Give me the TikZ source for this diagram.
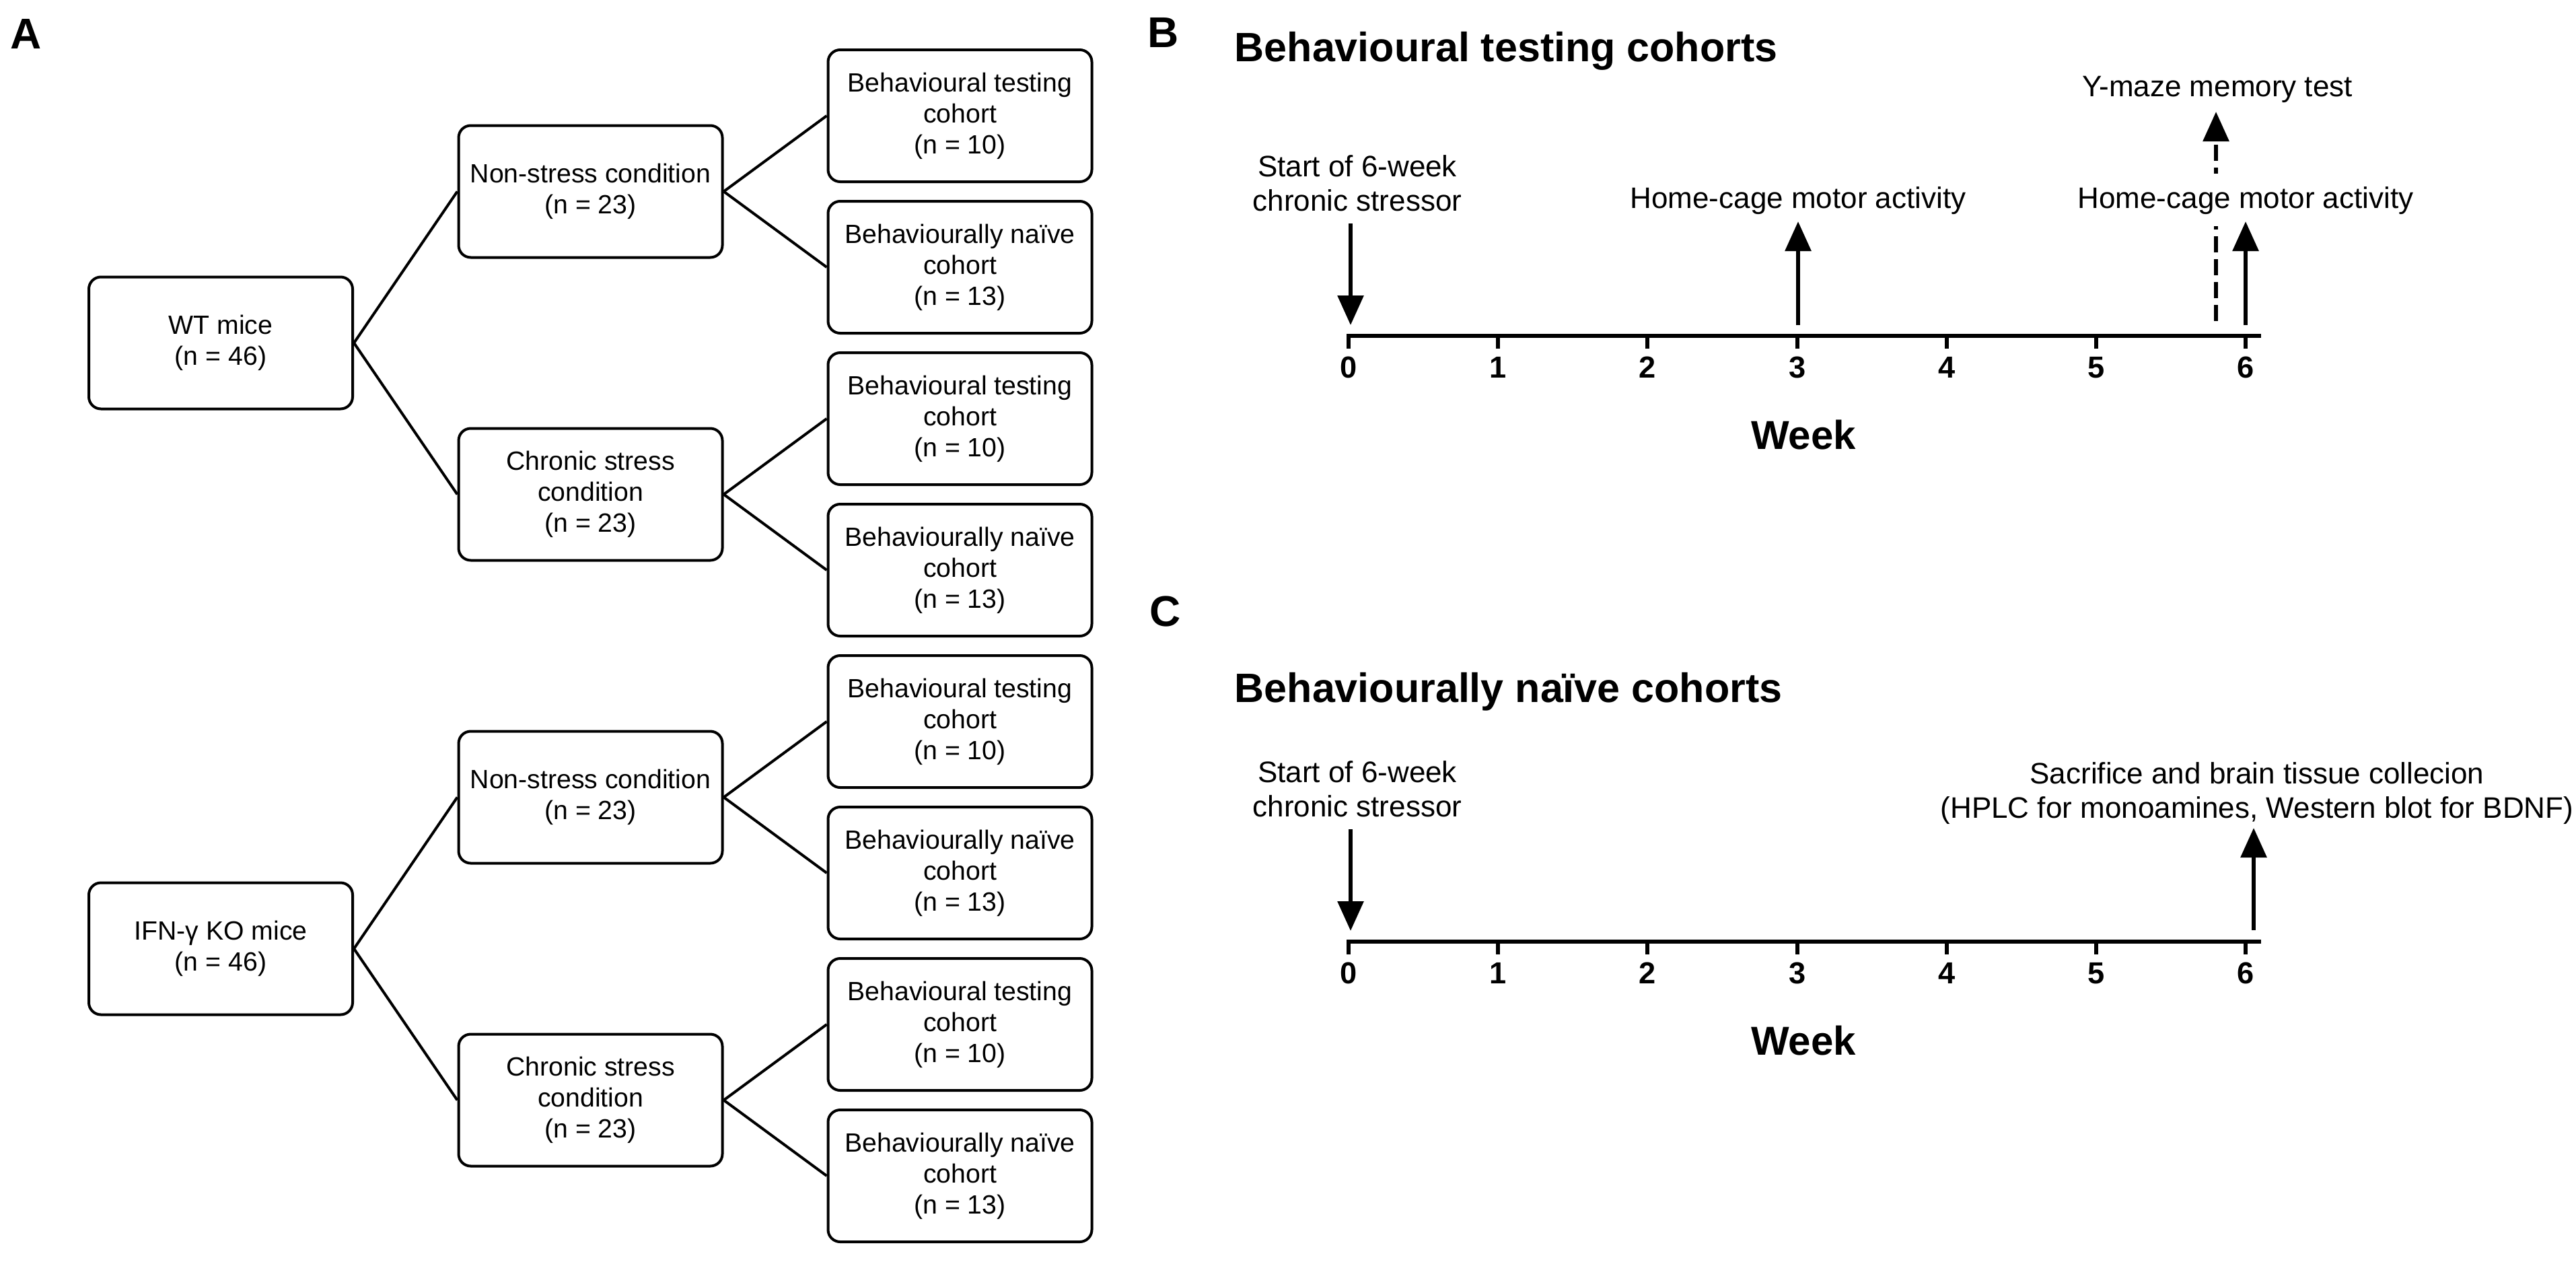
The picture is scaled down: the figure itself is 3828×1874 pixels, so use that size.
\documentclass[tikz,border=0pt]{standalone}
\usepackage{fontspec}
\setmainfont{Liberation Sans}
\usetikzlibrary{arrows.meta}
\begin{document}
\begin{tikzpicture}[x=0.25pt,y=-0.25pt,
  box/.style={draw, line width=1pt, rounded corners=4.5pt, minimum width=98pt, minimum height=49pt, inner sep=0pt, align=center, font=\fontsize{9.8}{11.5}\selectfont},
  link/.style={line width=1pt},
  panel/.style={font=\bfseries\fontsize{16}{18}\selectfont, anchor=base west, inner sep=0pt},
  ttl/.style={font=\bfseries\fontsize{15.25}{18}\selectfont, inner sep=0pt},
  lbl/.style={font=\fontsize{11}{12.6}\selectfont, align=center, inner sep=0pt},
  ticklbl/.style={font=\bfseries\fontsize{11.3}{13}\selectfont, anchor=base, inner sep=0pt},
  axisline/.style={line width=1.5pt},
  tickmark/.style={line width=1.5pt},
  evt/.style={line width=1.5pt, -{Triangle[length=11pt,width=9.5pt]}},
  evtdash/.style={evt, dash pattern=on 6pt off 2.5pt},
]
\useasboundingbox (0,0) rectangle (3828,1874);

% ---------------- Panel A ----------------
\node[panel] (labA) at (15,72) {A};

\node[box] (wt)  at (328,509.5)  {WT mice\\(n = 46)};
\node[box] (ns1) at (877.5,284.5) {Non-stress condition\\(n = 23)};
\node[box] (cs1) at (877.5,734.5) {Chronic stress\\condition\\(n = 23)};
\node[box] (bt1) at (1426.5,172) {Behavioural testing\\cohort\\(n = 10)};
\node[box] (bn1) at (1426.5,397) {Behaviourally naïve\\cohort\\(n = 13)};
\node[box] (bt2) at (1426.5,622) {Behavioural testing\\cohort\\(n = 10)};
\node[box] (bn2) at (1426.5,847) {Behaviourally naïve\\cohort\\(n = 13)};

\node[box] (ko)  at (328,1409.5)  {IFN-γ KO mice\\(n = 46)};
\node[box] (ns2) at (877.5,1184.5) {Non-stress condition\\(n = 23)};
\node[box] (cs2) at (877.5,1634.5) {Chronic stress\\condition\\(n = 23)};
\node[box] (bt3) at (1426.5,1072) {Behavioural testing\\cohort\\(n = 10)};
\node[box] (bn3) at (1426.5,1297) {Behaviourally naïve\\cohort\\(n = 13)};
\node[box] (bt4) at (1426.5,1522) {Behavioural testing\\cohort\\(n = 10)};
\node[box] (bn4) at (1426.5,1747) {Behaviourally naïve\\cohort\\(n = 13)};

\draw[link] (wt.east) -- (ns1.west);
\draw[link] (wt.east) -- (cs1.west);
\draw[link] (ns1.east) -- (bt1.west);
\draw[link] (ns1.east) -- (bn1.west);
\draw[link] (cs1.east) -- (bt2.west);
\draw[link] (cs1.east) -- (bn2.west);
\draw[link] (ko.east) -- (ns2.west);
\draw[link] (ko.east) -- (cs2.west);
\draw[link] (ns2.east) -- (bt3.west);
\draw[link] (ns2.east) -- (bn3.west);
\draw[link] (cs2.east) -- (bt4.west);
\draw[link] (cs2.east) -- (bn4.west);

% ---------------- Panel B ----------------
\node[panel] (labB) at (1705,70) {B};
\node[ttl, anchor=base west] (ttlB) at (1834,91) {Behavioural testing cohorts};

\node[lbl, anchor=north] (startB) at (2017,230) {Start of 6-week\\chronic stressor};
\node[lbl, anchor=base] (hcB3) at (2672,309) {Home-cage motor activity};
\node[lbl, anchor=base] (ymaze) at (3295,143) {Y-maze memory test};

\coordinate (axBl) at (2001,498.5);
\coordinate (axBr) at (3360,498.5);
\draw[axisline] (axBl) -- (axBr);
\foreach \k in {0,...,6}{
  \coordinate (tB\k) at ({2004+222.2*\k},498.5);
  \draw[tickmark] (tB\k) -- ++(0,19);
  \node[ticklbl] (tlB\k) at ({2004+222.2*\k},561) {\k};
}

\coordinate (aB0s) at (2007,332);
\coordinate (aB0e) at (2007,483);
\draw[evt] (aB0s) -- (aB0e);

\coordinate (aB3s) at (2672,483);
\coordinate (aB3e) at (2672,329);
\draw[evt] (aB3s) -- (aB3e);

\coordinate (aBds) at (3293,477);
\coordinate (aBde) at (3293,166);
\draw[evtdash] (aBds) -- (aBde);

\node[lbl, anchor=base, fill=white, text height=8.25pt, text depth=2.3pt, inner ysep=4.5pt] (hcB6) at (3337,309) {Home-cage motor activity};

\coordinate (aB6s) at (3337,483);
\coordinate (aB6e) at (3337,329);
\draw[evt] (aB6s) -- (aB6e);

\node[ttl, anchor=base, font=\bfseries\fontsize{15}{18}\selectfont] (weekB) at (2680,667) {Week};

% ---------------- Panel C ----------------
\node[panel] (labC) at (1708,930) {C};
\node[ttl, anchor=base west] (ttlC) at (1834,1043) {Behaviourally naïve cohorts};

\node[lbl, anchor=north] (startC) at (2017,1130) {Start of 6-week\\chronic stressor};
\node[lbl, anchor=north] (sacr) at (3354,1132) {Sacrifice and brain tissue collecion\\(HPLC for monoamines, Western blot for BDNF)};

\coordinate (axCl) at (2001,1398.5);
\coordinate (axCr) at (3360,1398.5);
\draw[axisline] (axCl) -- (axCr);
\foreach \k in {0,...,6}{
  \coordinate (tC\k) at ({2004+222.2*\k},1398.5);
  \draw[tickmark] (tC\k) -- ++(0,19);
  \node[ticklbl] (tlC\k) at ({2004+222.2*\k},1461) {\k};
}

\coordinate (aC0s) at (2007,1232);
\coordinate (aC0e) at (2007,1383);
\draw[evt] (aC0s) -- (aC0e);

\coordinate (aC6s) at (3349,1382);
\coordinate (aC6e) at (3349,1230);
\draw[evt] (aC6s) -- (aC6e);

\node[ttl, anchor=base, font=\bfseries\fontsize{15}{18}\selectfont] (weekC) at (2680,1567) {Week};
\end{tikzpicture}
\end{document}
